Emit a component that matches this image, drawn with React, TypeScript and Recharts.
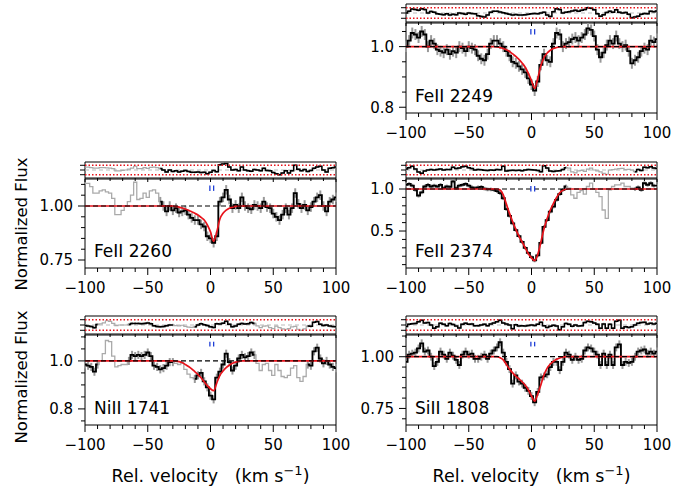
import React from 'react';
import { ComposedChart, Line, XAxis, YAxis, ReferenceLine, ReferenceArea, ErrorBar } from 'recharts';

// ---------- data ----------
const VEL = [
  -100, -97.5, -95, -92.5, -90, -87.5, -85, -82.5, -80, -77.5,
  -75, -72.5, -70, -67.5, -65, -62.5, -60, -57.5, -55, -52.5,
  -50, -47.5, -45, -42.5, -40, -37.5, -35, -32.5, -30, -27.5,
  -25, -22.5, -20, -17.5, -15, -12.5, -10, -7.5, -5, -2.5,
  0, 2.5, 5, 7.5, 10, 12.5, 15, 17.5, 20, 22.5,
  25, 27.5, 30, 32.5, 35, 37.5, 40, 42.5, 45, 47.5,
  50, 52.5, 55, 57.5, 60, 62.5, 65, 67.5, 70, 72.5,
  75, 77.5, 80, 82.5, 85, 87.5, 90, 92.5, 95, 97.5,
  100,
];
const X_TICKS = [-100, -90, -80, -70, -60, -50, -40, -30, -20, -10, 0, 10, 20, 30, 40, 50, 60, 70, 80, 90, 100];
const COMPONENT_VEL = [-0.5, 2.5];

const FE2249_FLUX = [
  1.0, 1.02, 1.045, 1.04, 1.03, 1.05, 1.04, 1.0, 1.02, 1.01,
  0.99, 0.985, 0.98, 0.99, 0.975, 0.985, 0.98, 1.0, 0.995, 0.985,
  1.0, 0.995, 0.99, 0.97, 0.96, 0.955, 0.975, 1.01, 1.02, 1.02,
  1.01, 1.0, 0.985, 0.97, 0.95, 0.945, 0.935, 0.925, 0.915, 0.895,
  0.875, 0.855, 0.885, 0.94, 0.975, 0.955, 0.95, 1.01, 1.045, 1.04,
  1.0, 1.01, 1.015, 1.025, 1.03, 1.02, 1.03, 1.04, 1.06, 1.055,
  1.035, 0.99, 0.965, 0.98, 1.005, 1.02, 1.01, 1.035, 1.01, 1.0,
  1.005, 0.985, 0.945, 0.955, 0.965, 0.985, 0.995, 0.99, 1.02, 1.015,
  1.025,
];
const FE2249_MODEL = [
  1, 1, 1, 1, 1, 1, 1, 1, 1, 1,
  1, 1, 1, 1, 1, 1, 1, 1, 1, 1,
  1, 1, 1, 1, 1, 1, 1, 1, 1, 0.999,
  0.997, 0.994, 0.99, 0.984, 0.976, 0.968, 0.958, 0.946, 0.932, 0.912,
  0.888, 0.862, 0.895, 0.938, 0.964, 0.979, 0.988, 0.994, 0.997, 0.999,
  1, 1, 1, 1, 1, 1, 1, 1, 1, 1,
  1, 1, 1, 1, 1, 1, 1, 1, 1, 1,
  1, 1, 1, 1, 1, 1, 1, 1, 1, 1,
  1,
];
const FE2249_RESID = [
  0.0, 0.35, 0.75, 0.65, 0.5, 0.8, 0.65, 0.0, 0.3, 0.15,
  -0.15, -0.25, -0.35, -0.15, -0.4, -0.25, -0.35, 0.0, -0.1, -0.25,
  0.0, -0.1, -0.15, -0.5, -0.65, -0.75, -0.4, 0.15, 0.35, 0.35,
  0.2, 0.05, -0.1, -0.25, -0.4, -0.3, -0.4, -0.4, -0.35, -0.25,
  -0.15, -0.1, -0.15, 0.0, 0.15, -0.4, -0.65, 0.25, 0.8, 0.65,
  0.0, 0.15, 0.25, 0.4, 0.5, 0.35, 0.5, 0.65, 1.0, 0.9,
  0.6, -0.15, -0.6, -0.35, 0.1, 0.35, 0.15, 0.6, 0.15, 0.0,
  0.1, -0.25, -0.9, -0.75, -0.6, -0.25, -0.1, -0.15, 0.35, 0.25,
  0.4,
];
const FE2249_MASK: number[][] = [];
const FE2249_YTICKS = [0.8, 0.85, 0.9, 0.95, 1.0, 1.05];
const FE2249_MARK = [1.04, 1.058];

const FE2260_FLUX = [
  1.105, 1.105, 1.09, 1.06, 1.06, 1.07, 1.075, 1.065, 1.06, 1.035,
  0.96, 0.96, 0.98, 1.0, 1.02, 1.05, 1.11, 1.03, 1.035, 1.06,
  1.04, 1.07, 1.075, 1.06, 1.02, 1.0, 0.975, 1.0, 0.98, 0.99,
  0.97, 0.975, 0.98, 0.96, 0.945, 0.935, 0.935, 0.915, 0.905, 0.86,
  0.85, 0.83, 0.86, 1.02, 1.04, 1.075, 1.03, 0.99, 1.005, 0.99,
  1.04, 1.0, 0.99, 0.985, 1.005, 1.0, 0.99, 1.02, 0.995, 0.99,
  0.965, 0.95, 0.935, 0.96, 0.99, 0.96, 0.99, 1.06, 1.01, 0.99,
  1.005, 0.98, 0.995, 1.02, 1.04, 1.05, 1.0, 0.975, 1.02, 1.03,
  1.04,
];
const FE2260_MODEL = [
  1, 1, 1, 1, 1, 1, 1, 1, 1, 1,
  1, 1, 1, 1, 1, 1, 1, 1, 1, 1,
  1, 1, 1, 1, 1, 1, 1, 1, 1, 0.998,
  0.995, 0.991, 0.986, 0.98, 0.973, 0.966, 0.958, 0.947, 0.935, 0.912,
  0.88, 0.836, 0.88, 0.94, 0.966, 0.981, 0.99, 0.995, 0.998, 0.999,
  1, 1, 1, 1, 1, 1, 1, 1, 1, 1,
  1, 1, 1, 1, 1, 1, 1, 1, 1, 1,
  1, 1, 1, 1, 1, 1, 1, 1, 1, 1,
  1,
];
const FE2260_RESID = [
  0.6, 0.6, 0.5, 0.4, 0.4, 0.5, 0.5, 0.45, 0.4, 0.3,
  -0.2, -0.2, -0.1, 0.0, 0.2, 0.4, 0.8, 0.3, 0.3, 0.5,
  0.35, 0.55, 0.6, 0.5, 0.3, 0.0, -0.4, 0.0, -0.3, -0.15,
  -0.4, -0.25, -0.1, -0.3, -0.5, -0.5, -0.4, -0.55, -0.5, -0.8,
  -0.5, -0.1, -0.35, 1.1, 1.25, 1.4, 0.65, 0.0, 0.1, -0.15,
  0.65, 0.0, -0.15, -0.25, 0.1, 0.0, -0.15, 0.35, -0.1, -0.15,
  -0.55, -0.8, -1.0, -0.65, -0.15, -0.65, -0.15, 1.0, 0.15, -0.15,
  0.1, -0.3, -0.1, 0.35, 0.65, 0.8, 0.0, -0.4, 0.35, 0.5,
  0.65,
];
const FE2260_MASK = [[-100, -42.5]];
const FE2260_YTICKS = [0.75, 0.8, 0.85, 0.9, 0.95, 1.0, 1.05, 1.1];
const FE2260_MARK = [1.07, 1.095];

const FE2374_FLUX = [
  1.05, 1.06, 1.04, 0.99, 0.92, 0.96, 1.03, 1.05, 1.03, 1.04,
  1.03, 1.05, 1.01, 1.03, 1.025, 1.09, 1.01, 1.04, 1.05, 1.06,
  1.04, 1.02, 1.01, 1.02, 1.025, 1.005, 0.995, 0.995, 0.99, 0.975,
  0.95, 0.89, 0.76, 0.68, 0.59, 0.51, 0.44, 0.37, 0.3, 0.24,
  0.19, 0.15, 0.21, 0.36, 0.55, 0.63, 0.73, 0.79, 0.87, 0.94,
  0.99, 1.03, 1.01, 0.93, 0.89, 0.96, 0.98, 0.94, 1.03, 1.07,
  1.0, 0.96, 0.91, 0.75, 0.65, 0.99, 1.03, 1.05, 1.05, 1.07,
  1.03, 1.03, 1.01, 1.0, 1.02, 0.99, 1.07, 1.05, 1.07, 1.04,
  1.04,
];
const FE2374_MODEL = [
  1, 1, 1, 1, 1, 1, 1, 1, 1, 1,
  1, 1, 1, 1, 1, 1, 1, 1, 1, 1,
  1, 1, 1, 1, 1, 1, 1, 1, 1, 1,
  0.988, 0.93, 0.82, 0.71, 0.61, 0.52, 0.44, 0.37, 0.3, 0.23,
  0.18, 0.148, 0.22, 0.37, 0.53, 0.65, 0.75, 0.83, 0.9, 0.955,
  0.985, 0.997, 1, 1, 1, 1, 1, 1, 1, 1,
  1, 1, 1, 1, 1, 1, 1, 1, 1, 1,
  1, 1, 1, 1, 1, 1, 1, 1, 1, 1,
  1,
];
const FE2374_RESID = [
  0.2, 0.5, 0.8, 0.2, -0.4, -0.7, -0.2, 0.0, 0.1, 0.0,
  0.1, 0.2, 0.0, 0.1, 0.1, 0.6, 0.3, 0.4, 0.7, 0.8,
  0.5, 0.3, 0.0, 0.1, 0.05, -0.05, -0.1, 0.0, -0.05, 0.1,
  0.05, 0.8, -0.2, -0.1, -0.05, -0.1, -0.05, -0.15, 0.0, 0.1,
  0.05, 0.0, -0.1, -0.35, 0.9, 0.4, -0.2, -0.3, -0.2, -0.15,
  0.1, 0.5, 0.4, -0.4, -0.6, -0.2, -0.1, -0.3, 0.2, 0.4,
  0.0, -0.2, -0.4, -0.7, -0.9, 0.0, 0.1, 0.2, 0.3, 0.35,
  0.1, 0.15, 0.0, -0.35, 0.1, -0.1, 0.6, 0.5, 0.7, 0.4,
  0.3,
];
const FE2374_MASK = [[30, 80]];
const FE2374_YTICKS = [0.1, 0.2, 0.3, 0.4, 0.5, 0.6, 0.7, 0.8, 0.9, 1.0, 1.1];
const FE2374_MARK = [0.97, 1.035];

const NI1741_FLUX = [
  0.985, 0.98, 0.975, 0.955, 0.985, 1.0, 1.03, 1.085, 1.08, 1.02,
  0.975, 0.98, 0.985, 0.985, 1.0, 1.025, 1.02, 1.025, 1.02, 1.025,
  1.035, 1.02, 0.98, 0.975, 0.965, 0.97, 0.98, 0.995, 0.995, 0.99,
  0.985, 0.99, 0.965, 0.945, 0.93, 0.925, 0.94, 0.95, 0.915, 0.89,
  0.855, 0.84, 0.93, 0.955, 0.985, 1.03, 0.995, 0.96, 0.98, 1.01,
  1.025, 1.015, 1.02, 1.035, 1.025, 0.99, 0.96, 0.985, 0.99, 0.96,
  0.94, 0.985, 0.96, 0.935, 0.93, 0.94, 0.97, 0.98, 0.93, 0.915,
  0.935, 0.985, 0.98, 1.04, 1.055, 1.01, 0.99, 1.0, 0.985, 0.975,
  0.97,
];
const NI1741_MODEL = [
  1, 1, 1, 1, 1, 1, 1, 1, 1, 1,
  1, 1, 1, 1, 1, 1, 1, 1, 1, 1,
  1, 1, 1, 1, 1, 1, 1, 1, 1, 0.999,
  0.997, 0.993, 0.985, 0.977, 0.967, 0.955, 0.943, 0.93, 0.913, 0.897,
  0.884, 0.876, 0.908, 0.94, 0.958, 0.972, 0.982, 0.99, 0.995, 0.998,
  1, 1, 1, 1, 1, 1, 1, 1, 1, 1,
  1, 1, 1, 1, 1, 1, 1, 1, 1, 1,
  1, 1, 1, 1, 1, 1, 1, 1, 1, 1,
  1,
];
const NI1741_RESID = [
  -0.1, -0.2, -0.3, -0.5, 0.1, 0.2, 0.4, 0.8, 0.7, 0.3,
  -0.1, 0.0, 0.0, 0.0, 0.1, 0.3, 0.3, 0.3, 0.25, 0.3,
  0.4, 0.25, -0.15, -0.3, -0.35, -0.3, -0.15, 0.0, 0.0, -0.1,
  -0.15, -0.05, -0.25, -0.4, -0.45, -0.35, 0.0, 0.25, 0.05, -0.1,
  -0.35, -0.45, 0.25, 0.2, 0.35, 0.7, 0.15, -0.35, -0.2, 0.15,
  0.3, 0.2, 0.25, 0.45, 0.3, -0.15, -0.5, -0.2, -0.15, -0.5,
  -0.7, -0.2, -0.5, -0.75, -0.8, -0.7, -0.35, -0.25, -0.8, -1.0,
  -0.75, -0.2, -0.25, 0.5, 0.65, 0.15, -0.1, 0.0, -0.2, -0.3,
  -0.35,
];
const NI1741_MASK = [[-87.5, -67.5], [-27.5, -15], [37.5, 75]];
const NI1741_YTICKS = [0.75, 0.8, 0.85, 0.9, 0.95, 1.0, 1.05, 1.1];
const NI1741_MARK = [1.06, 1.08];

const SI1808_FLUX = [
  0.975, 1.01, 1.015, 1.02, 1.04, 1.065, 1.025, 1.03, 1.0, 0.955,
  0.975, 1.025, 1.01, 0.99, 1.02, 1.005, 0.985, 0.96, 1.01, 1.025,
  1.01, 1.015, 0.99, 0.99, 1.0, 1.01, 0.99, 1.015, 1.03, 1.045,
  1.07, 1.02, 0.975, 0.94, 0.87, 0.91, 0.88, 0.87, 0.85, 0.835,
  0.81, 0.78, 0.83, 0.9, 0.905, 0.915, 0.95, 0.975, 0.975, 0.935,
  0.975, 1.02, 1.01, 0.985, 1.0, 0.985, 0.99, 1.03, 1.045, 1.04,
  1.025, 1.01, 0.96, 1.015, 0.96, 1.01, 0.96, 1.045, 1.06, 0.96,
  0.975, 0.97, 0.975, 1.0, 1.025, 1.03, 1.035, 1.015, 1.025, 1.015,
  1.025,
];
const SI1808_MODEL = [
  1, 1, 1, 1, 1, 1, 1, 1, 1, 1,
  1, 1, 1, 1, 1, 1, 1, 1, 1, 1,
  1, 1, 1, 1, 1, 1, 1, 1, 1, 1,
  0.995, 0.985, 0.962, 0.94, 0.922, 0.906, 0.893, 0.879, 0.862, 0.84,
  0.81, 0.785, 0.82, 0.865, 0.913, 0.945, 0.965, 0.978, 0.988, 0.994,
  0.998, 1, 1, 1, 1, 1, 1, 1, 1, 1,
  1, 1, 1, 1, 1, 1, 1, 1, 1, 1,
  1, 1, 1, 1, 1, 1, 1, 1, 1, 1,
  1,
];
const SI1808_RESID = [
  -0.3, 0.15, 0.25, 0.3, 0.6, 0.9, 0.4, 0.45, 0.0, -0.6,
  -0.35, 0.35, 0.15, -0.15, 0.3, 0.1, -0.2, -0.55, 0.15, 0.35,
  0.15, 0.2, -0.15, -0.15, 0.0, 0.15, -0.15, 0.2, 0.4, 0.6,
  0.9, 0.4, 0.2, 0.0, -0.7, 0.05, -0.2, -0.15, -0.2, -0.1,
  0.0, -0.1, 0.15, 0.5, -0.15, -0.45, -0.25, -0.05, -0.2, -0.9,
  -0.35, 0.3, 0.15, -0.25, 0.0, -0.2, -0.15, 0.45, 0.7, 0.6,
  0.4, 0.15, -0.6, 0.2, -0.6, 0.15, -0.6, 0.7, 0.9, -0.6,
  -0.35, -0.45, -0.35, 0.0, 0.35, 0.45, 0.5, 0.2, 0.35, 0.2,
  0.35,
];
const SI1808_MASK: number[][] = [];
const SI1808_YTICKS = [0.7, 0.75, 0.8, 0.85, 0.9, 0.95, 1.0, 1.05, 1.1];
const SI1808_MARK = [1.05, 1.072];

// flux errors per panel (2249, 2260, 2374, 1741, 1808) and residual error
const FLUX_ERR = [0.018, 0.022, 0.022, 0.017, 0.019];
const RES_ERR = 0.22;
const RES_DOMAIN: [number, number] = [-1.7, 1.7];
const RES_TICKS = [-1, 0, 1];

// ---------- layout / style ----------
const FONT = 'DejaVu Sans, Verdana, sans-serif';
const PW = 251;
const YW = 60;
const RM = 22;
const TM = 2;
const XH = 32;
const RED = '#e8131b';
const BLUE = '#1f3fd6';
const ERR_GRAY = '#999999';

type Panel = {
  label: string;
  flux: number[];
  model: number[];
  resid: number[];
  mask: number[][];
  err: number;
  domain: [number, number];
  yTicks: number[];
  yLabels: number[];
  digits: number;
  mark: number[];
  left: number;
  resTop: number;
  resH: number;
  mainTop: number;
  mainH: number;
};

const PANELS: Panel[] = [
  { label: 'FeII 2249', flux: FE2249_FLUX, model: FE2249_MODEL, resid: FE2249_RESID, mask: FE2249_MASK, err: FLUX_ERR[0],
    domain: [0.781, 1.078], yTicks: FE2249_YTICKS, yLabels: [0.8, 1.0], digits: 1, mark: FE2249_MARK,
    left: 406, resTop: 4, resH: 18, mainTop: 23, mainH: 90 },
  { label: 'FeII 2260', flux: FE2260_FLUX, model: FE2260_MODEL, resid: FE2260_RESID, mask: FE2260_MASK, err: FLUX_ERR[1],
    domain: [0.713, 1.125], yTicks: FE2260_YTICKS, yLabels: [0.75, 1.0], digits: 2, mark: FE2260_MARK,
    left: 85, resTop: 162, resH: 16, mainTop: 179, mainH: 89 },
  { label: 'FeII 2374', flux: FE2374_FLUX, model: FE2374_MODEL, resid: FE2374_RESID, mask: FE2374_MASK, err: FLUX_ERR[2],
    domain: [0.06, 1.119], yTicks: FE2374_YTICKS, yLabels: [0.5, 1.0], digits: 1, mark: FE2374_MARK,
    left: 406, resTop: 162, resH: 16, mainTop: 179, mainH: 89 },
  { label: 'NiII 1741', flux: NI1741_FLUX, model: NI1741_MODEL, resid: NI1741_RESID, mask: NI1741_MASK, err: FLUX_ERR[3],
    domain: [0.733, 1.108], yTicks: NI1741_YTICKS, yLabels: [0.8, 1.0], digits: 1, mark: NI1741_MARK,
    left: 85, resTop: 316, resH: 18, mainTop: 335, mainH: 90 },
  { label: 'SiII 1808', flux: SI1808_FLUX, model: SI1808_MODEL, resid: SI1808_RESID, mask: SI1808_MASK, err: FLUX_ERR[4],
    domain: [0.67, 1.105], yTicks: SI1808_YTICKS, yLabels: [0.75, 1.0], digits: 2, mark: SI1808_MARK,
    left: 406, resTop: 316, resH: 18, mainTop: 335, mainH: 90 },
];

const isMasked = (v: number, mask: number[][]) => mask.some(([a, b]) => v >= a - 1e-6 && v <= b + 1e-6);

const buildRows = (p: Panel) =>
  VEL.map((v, i) => {
    const m = isMasked(v, p.mask);
    return {
      v,
      fluxAll: p.flux[i],
      flux: m ? null : p.flux[i],
      fluxE: m ? null : p.flux[i],
      err: m ? null : p.err,
      model: p.model[i],
      resAll: p.resid[i],
      res: m ? null : p.resid[i],
      resE: m ? null : p.resid[i],
      resErr: m ? null : RES_ERR,
    };
  });

const fmtX = (v: number) => (v < 0 ? '\u2212' + Math.abs(v) : String(v));

const XTickMain = (props: any) => {
  const { x, y, payload } = props;
  const v = payload.value;
  const major = Math.abs(v % 50) < 1e-6;
  return (
    <g>
      <line x1={x} x2={x} y1={y} y2={y + (major ? 7 : 4)} stroke="#000" strokeWidth={1} />
      {major && (
        <text x={x} y={y + 25} textAnchor="middle" fontSize={15} fontFamily={FONT} fill="#000">
          {fmtX(v)}
        </text>
      )}
    </g>
  );
};

const XTickRes = (props: any) => {
  const { x, y, payload } = props;
  const major = Math.abs(payload.value % 50) < 1e-6;
  return <line x1={x} x2={x} y1={y} y2={y + (major ? 4 : 3)} stroke="#000" strokeWidth={1} />;
};

const makeYTick = (labels: number[], digits: number) => (props: any) => {
  const { x, y, payload } = props;
  const v = payload.value;
  const major = labels.some((l) => Math.abs(l - v) < 1e-6);
  return (
    <g>
      <line x1={x - (major ? 7 : 4)} x2={x} y1={y} y2={y} stroke="#000" strokeWidth={1} />
      {major && (
        <text x={x - 12} y={y} dy={5.3} textAnchor="end" fontSize={15} fontFamily={FONT} fill="#000">
          {v.toFixed(digits)}
        </text>
      )}
    </g>
  );
};

const YTickRes = (props: any) => {
  const { x, y } = props;
  return <line x1={x - 5} x2={x} y1={y} y2={y} stroke="#000" strokeWidth={1} />;
};

const ResidualChart = ({ p, rows }: { p: Panel; rows: any[] }) => (
  <div style={{ position: 'absolute', left: p.left - YW, top: p.resTop - TM }}>
    <ComposedChart width={YW + PW + RM} height={TM + p.resH + 8} data={rows} margin={{ top: TM, right: RM, bottom: 0, left: 0 }}>
      <XAxis dataKey="v" type="number" domain={[-100, 100]} ticks={X_TICKS} interval={0} allowDataOverflow
        axisLine={false} tickLine={false} tickSize={0} tickMargin={0} height={8} tick={XTickRes} />
      <YAxis type="number" domain={RES_DOMAIN} ticks={RES_TICKS} interval={0} allowDataOverflow
        axisLine={false} tickLine={false} tickSize={0} tickMargin={0} width={YW} tick={YTickRes} />
      <ReferenceLine y={0} stroke="#bbb" strokeDasharray="4 3" strokeWidth={1} />
      <Line dataKey="resAll" type="step" stroke="#aaa" strokeWidth={1.2} dot={false} isAnimationActive={false} />
      <Line dataKey="resE" type="step" stroke="none" dot={false} isAnimationActive={false}>
        <ErrorBar dataKey="resErr" width={0} stroke={ERR_GRAY} strokeWidth={1.8} direction="y" isAnimationActive={false} />
      </Line>
      <Line dataKey="res" type="step" stroke="#000" strokeWidth={1.5} dot={false} isAnimationActive={false} />
      <ReferenceLine y={1} stroke={RED} strokeDasharray="1.5 2" strokeWidth={1.5} />
      <ReferenceLine y={-1} stroke={RED} strokeDasharray="1.5 2" strokeWidth={1.5} />
      <ReferenceArea x1={-100} x2={100} y1={RES_DOMAIN[0]} y2={RES_DOMAIN[1]} fill="none" fillOpacity={0} stroke="#000" strokeWidth={1} />
    </ComposedChart>
  </div>
);

const MainChart = ({ p, rows }: { p: Panel; rows: any[] }) => (
  <div style={{ position: 'absolute', left: p.left - YW, top: p.mainTop - TM }}>
    <ComposedChart width={YW + PW + RM} height={TM + p.mainH + XH} data={rows} margin={{ top: TM, right: RM, bottom: 0, left: 0 }}>
      <XAxis dataKey="v" type="number" domain={[-100, 100]} ticks={X_TICKS} interval={0} allowDataOverflow
        axisLine={false} tickLine={false} tickSize={0} tickMargin={0} height={XH} tick={XTickMain} />
      <YAxis type="number" domain={p.domain} ticks={p.yTicks} interval={0} allowDataOverflow
        axisLine={false} tickLine={false} tickSize={0} tickMargin={0} width={YW} tick={makeYTick(p.yLabels, p.digits)} />
      <Line dataKey="fluxAll" type="step" stroke="#aaa" strokeWidth={1.3} dot={false} isAnimationActive={false} />
      <Line dataKey="fluxE" type="step" stroke="none" dot={false} isAnimationActive={false}>
        <ErrorBar dataKey="err" width={0} stroke={ERR_GRAY} strokeWidth={2} direction="y" isAnimationActive={false} />
      </Line>
      <Line dataKey="flux" type="step" stroke="#000" strokeWidth={1.8} dot={false} isAnimationActive={false} />
      <Line dataKey="model" type="monotone" stroke={RED} strokeWidth={1.7} dot={false} isAnimationActive={false} />
      <ReferenceLine y={1} stroke="#000" strokeDasharray="5 3" strokeWidth={1.2} />
      {COMPONENT_VEL.map((c) => (
        <ReferenceLine key={c} segment={[{ x: c, y: p.mark[0] }, { x: c, y: p.mark[1] }]} stroke={BLUE} strokeWidth={1.3} />
      ))}
      <ReferenceArea x1={-100} x2={100} y1={p.domain[0]} y2={p.domain[1]} fill="none" fillOpacity={0} stroke="#000" strokeWidth={1} />
    </ComposedChart>
  </div>
);

const XTitle = ({ cx }: { cx: number }) => (
  <text x={cx} y={481.5} textAnchor="middle" fontSize={17.5} fontFamily={FONT} fill="#000">
    {'Rel. velocity\u00a0\u00a0\u00a0(km s'}
    <tspan dy={-6.5} fontSize={13}>{'\u22121'}</tspan>
    <tspan dy={6.5}>{')'}</tspan>
  </text>
);

const YTitle = ({ cy }: { cy: number }) => (
  <text transform={`translate(27,${cy}) rotate(-90)`} x={0} y={0} textAnchor="middle" fontSize={16.5} fontFamily={FONT} fill="#000">
    Normalized Flux
  </text>
);

export default function App() {
  return (
    <div style={{ position: 'absolute', left: 0, top: 0, width: 698, height: 488, background: '#fff', overflow: 'hidden' }}>
      {PANELS.map((p) => {
        const rows = buildRows(p);
        return (
          <React.Fragment key={p.label}>
            <ResidualChart p={p} rows={rows} />
            <MainChart p={p} rows={rows} />
          </React.Fragment>
        );
      })}
      <svg width={698} height={488} style={{ position: 'absolute', left: 0, top: 0, pointerEvents: 'none' }}>
        {PANELS.map((p) => (
          <text key={p.label} x={p.left + 9} y={p.mainTop + p.mainH - 11} fontSize={17} fontFamily={FONT} fill="#000">
            {p.label}
          </text>
        ))}
        <YTitle cy={224} />
        <YTitle cy={377} />
        <XTitle cx={210.5} />
        <XTitle cx={531.5} />
      </svg>
    </div>
  );
}
